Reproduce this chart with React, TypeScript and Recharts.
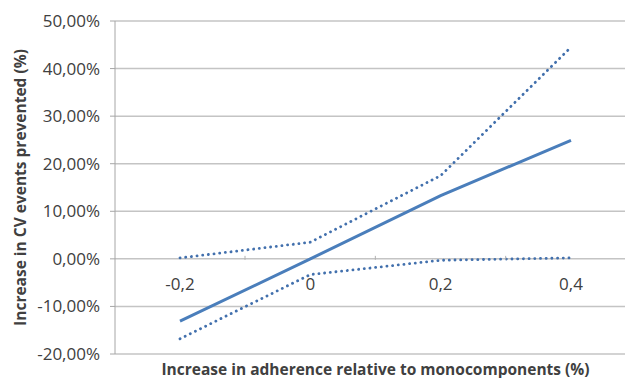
import { CartesianGrid, Line, LineChart, XAxis, YAxis } from 'recharts'

// adherence increase (category axis)
const categories = ['-0,2', '0', '0,2', '0,4']
// increase in CV events prevented, in %
const central = [-13.1, 0, 13.3, 24.9]
const upper = [0.2, 3.5, 17.5, 44.5]
const lower = [-16.8, -3.3, -0.3, 0.2]
const yTicks = [-20, -10, 0, 10, 20, 30, 40, 50]

const data = categories.map((c, i) => ({
  x: c,
  central: central[i],
  upper: upper[i],
  lower: lower[i],
}))

const W = 640
const H = 378
const TOP = 21
const XAXIS_H = 24
const PLOT_H = H - TOP - XAXIS_H
const Y_MIN = -20
const Y_MAX = 50
const ZERO_Y = TOP + ((Y_MAX - 0) / (Y_MAX - Y_MIN)) * PLOT_H
// Excel "between tick marks": halbe Kategorienbreite Rand links/rechts
const HALF_BAND = 65

const FONT = '"Open Sans", "DejaVu Sans", sans-serif'
const TEXT = '#404040'
const BLUE = '#4a7ebb'

const fmt = (v: number) => `${v.toFixed(2).replace('.', ',')}%`

// Excel-Achse kreuzt bei 0 -> Beschriftung unter die Nulllinie ziehen
function ZeroTick({ x, payload }: any) {
  return (
    <g>
      <line x1={x + HALF_BAND} x2={x + HALF_BAND} y1={ZERO_Y - 3} y2={ZERO_Y + 1} stroke="#b0b0b0" />
      <text x={x} y={ZERO_Y + 31} textAnchor="middle" fontSize={17} fill={TEXT} fontFamily={FONT}>
        {payload.value}
      </text>
    </g>
  )
}

export default function App() {
  return (
    <div
      style={{
        position: 'absolute',
        left: 0,
        top: 0,
        width: 625,
        height: 378,
        overflow: 'hidden',
        background: '#fff',
      }}
    >
      <LineChart width={W} height={H} data={data} margin={{ top: TOP, right: 4, left: 0, bottom: 0 }}>
        <CartesianGrid vertical={false} stroke="#c4c4c4" strokeWidth={1.5} />
        <XAxis
          dataKey="x"
          height={XAXIS_H}
          axisLine={false}
          tickLine={false}
          tick={<ZeroTick />}
          interval={0}
          padding={{ left: HALF_BAND, right: HALF_BAND }}
          label={{
            value: 'Increase in adherence relative to monocomponents (%)',
            position: 'insideBottom',
            offset: 3,
            style: { fontFamily: FONT, fontSize: 15.5, fontWeight: 700, fill: TEXT },
          }}
        />
        <YAxis
          width={115}
          domain={[Y_MIN, Y_MAX]}
          ticks={yTicks}
          tickFormatter={fmt}
          interval={0}
          stroke="#a6a6a6"
          tickSize={5}
          tickMargin={10}
          tick={{ fontSize: 17, fill: TEXT, fontFamily: FONT }}
          label={{
            value: 'Increase in CV events prevented (%)',
            angle: -90,
            position: 'insideLeft',
            offset: 20,
            style: { textAnchor: 'middle', fontFamily: FONT, fontSize: 15.5, fontWeight: 700, fill: TEXT },
          }}
        />
        <Line
          dataKey="upper"
          stroke="#4270ad"
          strokeWidth={2.8}
          strokeDasharray="0.1 5.6"
          strokeLinecap="round"
          dot={false}
          isAnimationActive={false}
        />
        <Line
          dataKey="lower"
          stroke="#4270ad"
          strokeWidth={2.8}
          strokeDasharray="0.1 5.6"
          strokeLinecap="round"
          dot={false}
          isAnimationActive={false}
        />
        <Line dataKey="central" stroke={BLUE} strokeWidth={3} dot={false} isAnimationActive={false} />
      </LineChart>
    </div>
  )
}
